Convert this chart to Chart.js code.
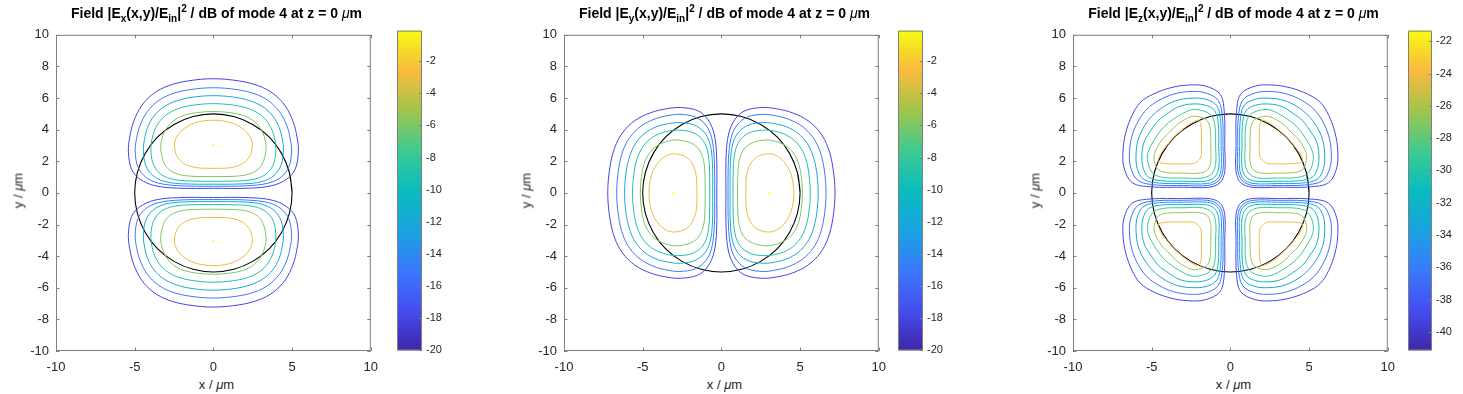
<html><head>
<title>Mode 4 field components</title>
<style>
  body { margin: 0; background: #fff; font-family: 'Liberation Sans', Arial, sans-serif; }
  .abs { position: absolute; }
  .title { position: absolute; top: 5px; width: 400px; text-align: center; font-weight: bold; font-size: 14px; line-height: 16px; color: #000; white-space: nowrap; }
  .title sub { font-size: 10px; vertical-align: -4px; line-height: 0; }
  .title sup { font-size: 10px; vertical-align: 6px; line-height: 0; }
  .mu { font-style: italic; font-weight: normal; }
  .xlab { position: absolute; top: 377px; width: 100px; text-align: center; font-size: 13px; color: #262626; }
  .ylab { position: absolute; width: 100px; text-align: center; font-size: 13px; color: #262626; transform: rotate(-90deg); }
</style>
<script src="https://cdn.jsdelivr.net/npm/chart.js"></script>
</head>
<body>
<div id="page"></div>
<script>
// ---- data (x, y in micrometres) ----
const axisTicksX = [-10, -5, 0, 5, 10];
const axisTicksY = [-10, -8, -6, -4, -2, 0, 2, 4, 6, 8, 10];

// contour levels in dB (|E|^2 relative to input)
const exLevels = [-18, -15, -12, -9, -6, -3];
const eyLevels = [-18, -15, -12, -9, -6, -3];
const ezLevels = [-39, -36.5, -34, -31.5, -29, -26.5, -24];

// colour limits and colour bar ticks
const exRange = [-20, -0.1];
const eyRange = [-20, -0.1];
const ezRange = [-41.15, -21.34];
const exBarTicks = [-20, -18, -16, -14, -12, -10, -8, -6, -4, -2];
const eyBarTicks = [-20, -18, -16, -14, -12, -10, -8, -6, -4, -2];
const ezBarTicks = [-40, -38, -36, -34, -32, -30, -28, -26, -24, -22];

// |Ex|^2: upper lobe, left half, from top centre to bottom centre
const ex18 = [[0,7.22],[-1.64,7.08],[-2.88,6.77],[-3.82,6.27],[-4.57,5.5],[-5.07,4.5],[-5.32,3.5],[-5.4,2.6],[-5.2,1.5],[-4.66,0.87],[-3.73,0.46],[-2.27,0.3],[0,0.29]];
const ex15 = [[0,6.65],[-1.51,6.53],[-2.65,6.26],[-3.51,5.82],[-4.2,5.14],[-4.66,4.27],[-4.89,3.39],[-4.97,2.65],[-4.8,1.65],[-4.3,1.0],[-3.5,0.62],[-2.1,0.45],[0,0.42]];
const ex12 = [[0,6.15],[-1.35,6.05],[-2.37,5.81],[-3.15,5.44],[-3.77,4.87],[-4.18,4.14],[-4.38,3.37],[-4.45,2.7],[-4.3,1.75],[-3.85,1.1],[-3.1,0.72],[-1.9,0.57],[0,0.55]];
const ex9  = [[0,5.65],[-1.21,5.56],[-2.12,5.37],[-2.81,5.06],[-3.36,4.59],[-3.73,3.97],[-3.91,3.36],[-3.97,2.8],[-3.85,1.9],[-3.45,1.28],[-2.8,0.92],[-1.7,0.76],[0,0.74]];
const ex6  = [[0,5.15],[-1.02,5.08],[-1.79,4.93],[-2.37,4.68],[-2.83,4.29],[-3.14,3.79],[-3.3,3.3],[-3.35,2.85],[-3.2,2.05],[-2.85,1.5],[-2.2,1.17],[-1.3,1.05],[0,1.03]];
const ex3  = [[0,4.6],[-1.2,4.42],[-2.0,3.95],[-2.4,3.4],[-2.47,2.9],[-2.3,2.3],[-1.85,1.85],[-1.1,1.6],[0,1.55]];
const exPeak = [0, 3.05];

// |Ey|^2 lobes look like the Ex lobes turned by 90 degrees
const eyPeak = [3.05, 0];

// |Ez|^2: upper-left lobe, closed loops from outside in
const ez1 = [[-3,0.36],[-5.0,0.38],[-6.24,0.65],[-6.76,1.6],[-6.82,2.7],[-6.65,3.8],[-6.25,4.9],[-5.72,5.72],[-4.9,6.25],[-3.8,6.65],[-2.7,6.82],[-1.6,6.76],[-0.65,6.24],[-0.38,5.0],[-0.36,3.0],[-0.36,1.36],[-0.65,0.65],[-1.36,0.36],[-3,0.36]];
const ez2 = [[-3,0.47],[-4.7,0.5],[-5.85,0.77],[-6.33,1.6],[-6.41,2.6],[-6.25,3.6],[-5.85,4.55],[-5.3,5.3],[-4.55,5.85],[-3.6,6.25],[-2.6,6.41],[-1.6,6.33],[-0.77,5.85],[-0.5,4.7],[-0.47,3.0],[-0.47,1.45],[-0.76,0.76],[-1.45,0.47],[-3,0.47]];
const ez3 = [[-3,0.59],[-4.5,0.62],[-5.5,0.85],[-5.92,1.55],[-5.99,2.5],[-5.85,3.4],[-5.45,4.25],[-4.92,4.92],[-4.25,5.45],[-3.4,5.85],[-2.5,5.99],[-1.55,5.92],[-0.85,5.5],[-0.62,4.5],[-0.59,3.0],[-0.59,1.5],[-0.85,0.85],[-1.5,0.59],[-3,0.59]];
const ez4 = [[-3,0.74],[-4.4,0.77],[-5.2,1.0],[-5.55,1.6],[-5.62,2.5],[-5.45,3.3],[-5.05,3.95],[-4.58,4.58],[-3.95,5.05],[-3.3,5.45],[-2.5,5.62],[-1.6,5.55],[-1.0,5.2],[-0.77,4.4],[-0.74,3.0],[-0.74,1.6],[-1.0,1.0],[-1.6,0.74],[-3,0.74]];
const ez5 = [[-3,0.94],[-4.2,0.97],[-4.85,1.18],[-5.18,1.7],[-5.25,2.5],[-4.68,3.6],[-4.2,4.2],[-3.6,4.68],[-2.5,5.25],[-1.7,5.18],[-1.18,4.85],[-0.97,4.2],[-0.94,3.0],[-0.94,1.8],[-1.2,1.2],[-1.8,0.94],[-3,0.94]];
const ez6 = [[-3,1.25],[-4.0,1.28],[-4.55,1.45],[-4.8,1.9],[-4.82,2.5],[-4.35,3.35],[-3.85,3.85],[-3.35,4.35],[-2.5,4.82],[-1.9,4.8],[-1.45,4.55],[-1.28,4.0],[-1.25,3.0],[-1.25,2.0],[-1.45,1.45],[-2.0,1.25],[-3,1.25]];
const ez7 = [[-3,1.84],[-3.9,1.84],[-4.4,1.9],[-4.6,2.05],[-4.35,2.6],[-4.0,3.05],[-3.55,3.55],[-3.05,4.0],[-2.6,4.35],[-2.05,4.6],[-1.9,4.4],[-1.84,3.9],[-1.84,3.0],[-1.86,2.35],[-2.05,2.05],[-2.35,1.86],[-3,1.84]];

// fibre core outline, radius 5 um, every 15 degrees (first point repeated to close)
const core = [[5,0],[4.83,1.29],[4.33,2.5],[3.54,3.54],[2.5,4.33],[1.29,4.83],[0,5],[-1.29,4.83],[-2.5,4.33],[-3.54,3.54],[-4.33,2.5],[-4.83,1.29],[-5,0],[-4.83,-1.29],[-4.33,-2.5],[-3.54,-3.54],[-2.5,-4.33],[-1.29,-4.83],[0,-5],[1.29,-4.83],[2.5,-4.33],[3.54,-3.54],[4.33,-2.5],[4.83,-1.29],[5,0],[4.83,1.29]];

// parula colour map stops
const parulaStops = [
  [0.000, [62, 38, 168]], [0.125, [70, 77, 240]], [0.250, [57, 121, 252]],
  [0.375, [25, 163, 224]], [0.500, [9, 188, 190]], [0.625, [63, 202, 144]],
  [0.750, [161, 197, 75]], [0.875, [250, 186, 62]], [0.940, [246, 219, 38]],
  [1.000, [249, 251, 21]]
];

function parula(t) {
  t = Math.max(0, Math.min(1, t));
  for (let i = 1; i < parulaStops.length; i++) {
    const [t1, c1] = parulaStops[i];
    const [t0, c0] = parulaStops[i - 1];
    if (t <= t1) {
      const f = (t - t0) / (t1 - t0);
      const c = c0.map((v, k) => Math.round(v + f * (c1[k] - v)));
      return `rgb(${c[0]},${c[1]},${c[2]})`;
    }
  }
  return 'rgb(249,251,21)';
}

const pts = arr => arr.map(([x, y]) => ({x, y}));
const flipX = arr => arr.map(([x, y]) => [-x, y]);
const flipY = arr => arr.map(([x, y]) => [x, -y]);
const swap = arr => arr.map(([x, y]) => [y, x]);
// half lobe (top -> bottom on the left) to a closed loop starting at bottom centre
const closeLobe = half => flipX(half).reverse().concat(half.slice(1));

const AXIS = '#7f7f7f';
const TXT = '#262626';

// inward ticks and a box round the plot, MATLAB style
const boxTicks = {
  id: 'boxTicks',
  afterDraw(chart, args, opts) {
    const {ctx, chartArea: a} = chart;
    const len = opts.len || 3.5;
    ctx.save();
    ctx.strokeStyle = AXIS;
    ctx.lineWidth = 1;
    ctx.beginPath();
    if (opts.xy) {
      const sx = chart.scales.x, sy = chart.scales.y;
      sx.ticks.forEach(t => {
        const p = Math.round(sx.getPixelForValue(t.value)) + 0.5;
        ctx.moveTo(p, a.bottom); ctx.lineTo(p, a.bottom - len);
        ctx.moveTo(p, a.top); ctx.lineTo(p, a.top + len);
      });
      sy.ticks.forEach(t => {
        const p = Math.round(sy.getPixelForValue(t.value)) + 0.5;
        ctx.moveTo(a.left, p); ctx.lineTo(a.left + len, p);
        ctx.moveTo(a.right, p); ctx.lineTo(a.right - len, p);
      });
    } else {
      const sy = chart.scales.y;
      sy.ticks.forEach(t => {
        const p = Math.round(sy.getPixelForValue(t.value)) + 0.5;
        ctx.moveTo(a.right, p); ctx.lineTo(a.right - len, p);
      });
    }
    ctx.rect(a.left + 0.5, a.top + 0.5, a.width - 1, a.height - 1);
    ctx.stroke();
    ctx.restore();
  }
};

function contourSets(loops, levels, range) {
  const sets = [];
  loops.forEach((group, i) => {
    const col = parula((levels[i] - range[0]) / (range[1] - range[0]));
    group.forEach(loop => sets.push({
      data: pts(loop), showLine: true, borderColor: col, borderWidth: 1,
      pointRadius: 0, tension: 0.35, fill: false
    }));
  });
  return sets;
}

function makePanel(cfg) {
  const page = document.getElementById('page');
  const S = 321;
  // plot canvas
  const cv = document.createElement('canvas');
  cv.width = 40 + S + 10; cv.height = 10 + S + 24;
  cv.className = 'abs';
  cv.style.left = (cfg.left - 40) + 'px'; cv.style.top = '20px';
  page.appendChild(cv);

  const sets = contourSets(cfg.loops, cfg.levels, cfg.range);
  sets.push({data: pts(core), showLine: true, borderColor: '#000', borderWidth: 1.1, pointRadius: 0, tension: 0.34});
  sets.push({data: pts(cfg.peaks), showLine: false, pointRadius: 1, pointBorderWidth: 0, backgroundColor: 'rgb(249,251,21)'});

  const tickFont = {family: "'Liberation Sans', Arial, sans-serif", size: 13};
  new Chart(cv, {
    type: 'scatter',
    data: {datasets: sets},
    options: {
      responsive: false, animation: false,
      layout: {padding: {top: 10, right: 10, left: 0, bottom: 0}},
      plugins: {legend: {display: false}, tooltip: {enabled: false}, boxTicks: {xy: true}},
      scales: {
        x: {
          type: 'linear', min: -10, max: 10,
          afterBuildTicks: s => { s.ticks = axisTicksX.map(v => ({value: v})); },
          afterFit: s => { s.height = 24; },
          grid: {display: false, drawTicks: false}, border: {display: false},
          ticks: {color: TXT, font: tickFont, padding: 9, maxRotation: 0}
        },
        y: {
          type: 'linear', min: -10, max: 10,
          afterBuildTicks: s => { s.ticks = axisTicksY.map(v => ({value: v})); },
          afterFit: s => { s.width = 40; },
          grid: {display: false, drawTicks: false}, border: {display: false},
          ticks: {color: TXT, font: tickFont, padding: 7}
        }
      }
    },
    plugins: [boxTicks]
  });

  // colour bar
  const cb = document.createElement('canvas');
  cb.width = 5 + cfg.cbWidth + 40; cb.height = 10 + S + 10;
  cb.className = 'abs';
  cb.style.left = (cfg.cbLeft - 5) + 'px'; cb.style.top = '20px';
  page.appendChild(cb);
  new Chart(cb, {
    type: 'bar',
    data: {labels: ['cb'], datasets: [{
      data: [[cfg.range[0], cfg.range[1]]],
      barPercentage: 1, categoryPercentage: 1, borderWidth: 0,
      backgroundColor: ctx => {
        const a = ctx.chart.chartArea;
        if (!a) return '#888';
        const g = ctx.chart.ctx.createLinearGradient(0, a.bottom, 0, a.top);
        parulaStops.forEach(([t]) => g.addColorStop(t, parula(t)));
        return g;
      }
    }]},
    options: {
      responsive: false, animation: false,
      layout: {padding: {top: 10, bottom: 10, left: 5, right: 0}},
      plugins: {legend: {display: false}, tooltip: {enabled: false}, boxTicks: {xy: false, len: 3}},
      scales: {
        x: {display: false},
        y: {
          position: 'right', min: cfg.range[0], max: cfg.range[1],
          afterBuildTicks: s => { s.ticks = cfg.barTicks.map(v => ({value: v})); },
          afterFit: s => { s.width = 40; },
          grid: {display: false, drawTicks: false}, border: {display: false},
          ticks: {color: TXT, font: {family: "'Liberation Sans', Arial, sans-serif", size: 11}, padding: 4}
        }
      }
    },
    plugins: [boxTicks]
  });

  // texts
  const cx = cfg.left + S / 2;
  const t = document.createElement('div');
  t.className = 'title'; t.style.left = (cx - 200) + 'px'; t.innerHTML = cfg.title;
  page.appendChild(t);
  const xl = document.createElement('div');
  xl.className = 'xlab'; xl.style.left = (cx - 50) + 'px';
  xl.innerHTML = 'x / <span class="mu">&mu;</span>m';
  page.appendChild(xl);
  const yl = document.createElement('div');
  yl.className = 'ylab'; yl.style.left = (cfg.left - 38 - 50) + 'px'; yl.style.top = (190.5 - 8) + 'px';
  yl.innerHTML = 'y / <span class="mu">&mu;</span>m';
  page.appendChild(yl);
}

const exHalves = [ex18, ex15, ex12, ex9, ex6, ex3];
const exLoops = exHalves.map(h => { const up = closeLobe(h); return [up, flipY(up)]; });
const eyLoops = exHalves.map(h => { const r = swap(closeLobe(h)); return [r, flipX(r)]; });
const ezLoops = [ez1, ez2, ez3, ez4, ez5, ez6, ez7].map(l => [l, flipX(l), flipY(l), flipX(flipY(l))]);

makePanel({
  left: 56, cbLeft: 397, cbWidth: 25, levels: exLevels, range: exRange, barTicks: exBarTicks,
  loops: exLoops, peaks: [exPeak, [exPeak[0], -exPeak[1]]],
  title: 'Field |E<sub>x</sub>(x,y)/E<sub>in</sub>|<sup>2</sup> / dB of mode 4 at z = 0 <span class="mu">&mu;</span>m'
});
makePanel({
  left: 564, cbLeft: 898, cbWidth: 25, levels: eyLevels, range: eyRange, barTicks: eyBarTicks,
  loops: eyLoops, peaks: [eyPeak, [-eyPeak[0], eyPeak[1]]],
  title: 'Field |E<sub>y</sub>(x,y)/E<sub>in</sub>|<sup>2</sup> / dB of mode 4 at z = 0 <span class="mu">&mu;</span>m'
});
makePanel({
  left: 1073, cbLeft: 1408, cbWidth: 24, levels: ezLevels, range: ezRange, barTicks: ezBarTicks,
  loops: ezLoops, peaks: [],
  title: 'Field |E<sub>z</sub>(x,y)/E<sub>in</sub>|<sup>2</sup> / dB of mode 4 at z = 0 <span class="mu">&mu;</span>m'
});
</script>
</body></html>
